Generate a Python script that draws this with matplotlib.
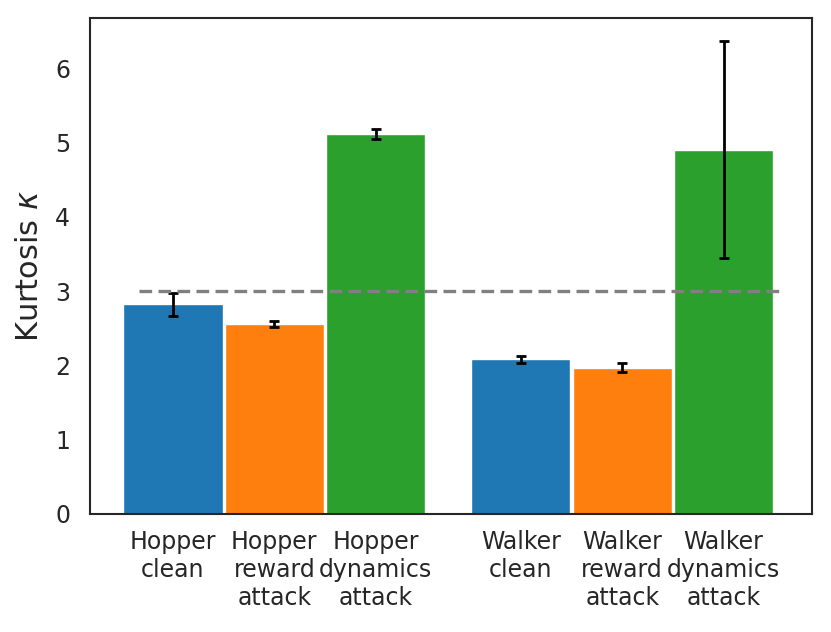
import numpy as np
import matplotlib
matplotlib.use("Agg")
import matplotlib.pyplot as plt

# Data
labels = [
    "Hopper\nclean", "Hopper\nreward\nattack", "Hopper\ndynamics\nattack",
    "Walker\nclean", "Walker\nreward\nattack", "Walker\ndynamics\nattack",
]
kurtosis = [2.82, 2.55, 5.11, 2.08, 1.97, 4.90]
kurtosis_err = [0.15, 0.04, 0.07, 0.05, 0.06, 1.46]
positions = [0, 1, 2, 3.43, 4.43, 5.43]
colors = ["#1f77b4", "#ff7f0e", "#2ca02c", "#1f77b4", "#ff7f0e", "#2ca02c"]
gaussian_kurtosis = 3.0


def main():
    fig = plt.figure(figsize=(8.31, 6.32), dpi=100)
    ax = fig.add_axes([0.108, 0.187, 0.869, 0.785])

    ax.bar(positions, kurtosis, width=0.98, color=colors,
           edgecolor="white", linewidth=1.0)
    ax.errorbar(positions, kurtosis, yerr=kurtosis_err, fmt="none",
                ecolor="black", elinewidth=2.0, capsize=3.3, capthick=2.0)
    # gaussian reference level
    ax.plot([-0.33, 5.98], [gaussian_kurtosis, gaussian_kurtosis],
            linestyle="--", color="gray", linewidth=2.4, dashes=(3.8, 1.9))

    ax.set_xlim(-0.82, 6.30)
    ax.set_ylim(0, 6.68)
    ax.set_xticks(positions)
    ax.set_xticklabels(labels, fontsize=17, color="#262626",
                       ha="center", multialignment="center")
    ax.set_yticks(range(7))
    ax.tick_params(axis="y", labelsize=17, labelcolor="#262626", length=0, pad=14)
    ax.tick_params(axis="x", length=0, pad=12)
    ax.set_ylabel(r"Kurtosis $\kappa$", fontsize=22, color="#262626", labelpad=8)

    for s in ax.spines.values():
        s.set_color("#262626")
        s.set_linewidth(1.5)

    fig.savefig("out.png", dpi=100)
    plt.close(fig)


if __name__ == "__main__":
    main()
